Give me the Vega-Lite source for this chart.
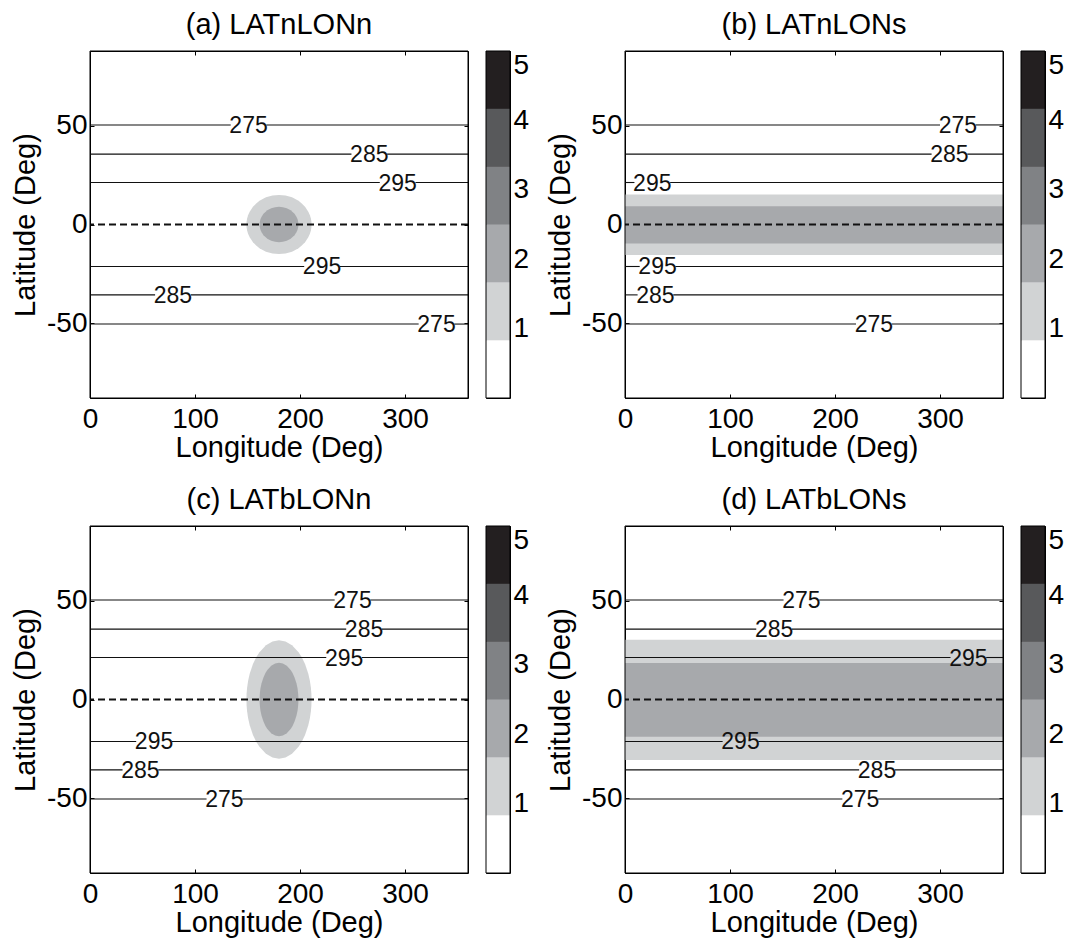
{
"$schema": "https://vega.github.io/schema/vega-lite/v6.json",
"background": "white",
"padding": {"left": 11, "top": 10, "right": 0, "bottom": 0},
"config": {
 "font": "Liberation Sans",
 "view": {"stroke": "black", "strokeWidth": 1},
 "axis": {"grid": false, "domain": false, "zindex": 1, "labelFontSize": 28, "titleFontSize": 29, "titleFontWeight": "normal", "labelColor": "black", "titleColor": "black", "tickColor": "black", "tickWidth": 1, "labelFont": "Liberation Sans", "titleFont": "Liberation Sans"},
 "title": {"fontSize": 29, "fontWeight": "normal", "color": "black", "anchor": "middle", "frame": "group", "offset": 11, "font": "Liberation Sans"},
 "text": {"font": "Liberation Sans"}
},
"datasets": {
 "segs": [
  {"p":"a","lat":50.5,"a":0,"b":134},{"p":"a","lat":50.5,"a":168,"b":360},
  {"p":"a","lat":35.7,"a":0,"b":249},{"p":"a","lat":35.7,"a":283,"b":360},
  {"p":"a","lat":21.3,"a":0,"b":276},{"p":"a","lat":21.3,"a":310,"b":360},
  {"p":"a","lat":-21.3,"a":0,"b":204},{"p":"a","lat":-21.3,"a":238,"b":360},
  {"p":"a","lat":-35.7,"a":0,"b":62},{"p":"a","lat":-35.7,"a":96,"b":360},
  {"p":"a","lat":-50.5,"a":0,"b":313},{"p":"a","lat":-50.5,"a":347,"b":360},
  {"p":"b","lat":50.5,"a":0,"b":300},{"p":"b","lat":50.5,"a":334,"b":360},
  {"p":"b","lat":35.7,"a":0,"b":292},{"p":"b","lat":35.7,"a":326,"b":360},
  {"p":"b","lat":21.3,"a":0,"b":9},{"p":"b","lat":21.3,"a":43,"b":360},
  {"p":"b","lat":-21.3,"a":0,"b":14},{"p":"b","lat":-21.3,"a":48,"b":360},
  {"p":"b","lat":-35.7,"a":0,"b":12},{"p":"b","lat":-35.7,"a":46,"b":360},
  {"p":"b","lat":-50.5,"a":0,"b":220},{"p":"b","lat":-50.5,"a":254,"b":360},
  {"p":"c","lat":50.5,"a":0,"b":233},{"p":"c","lat":50.5,"a":267,"b":360},
  {"p":"c","lat":35.7,"a":0,"b":244},{"p":"c","lat":35.7,"a":278,"b":360},
  {"p":"c","lat":21.3,"a":0,"b":225},{"p":"c","lat":21.3,"a":259,"b":360},
  {"p":"c","lat":-21.3,"a":0,"b":44},{"p":"c","lat":-21.3,"a":78,"b":360},
  {"p":"c","lat":-35.7,"a":0,"b":31},{"p":"c","lat":-35.7,"a":65,"b":360},
  {"p":"c","lat":-50.5,"a":0,"b":111},{"p":"c","lat":-50.5,"a":145,"b":360},
  {"p":"d","lat":50.5,"a":0,"b":151},{"p":"d","lat":50.5,"a":185,"b":360},
  {"p":"d","lat":35.7,"a":0,"b":125},{"p":"d","lat":35.7,"a":159,"b":360},
  {"p":"d","lat":21.3,"a":0,"b":310},{"p":"d","lat":21.3,"a":344,"b":360},
  {"p":"d","lat":-21.3,"a":0,"b":93},{"p":"d","lat":-21.3,"a":127,"b":360},
  {"p":"d","lat":-35.7,"a":0,"b":223},{"p":"d","lat":-35.7,"a":257,"b":360},
  {"p":"d","lat":-50.5,"a":0,"b":207},{"p":"d","lat":-50.5,"a":241,"b":360}
 ],
 "zero": [{"lat": 0}],
 "cbar": [{"lo": 0, "hi": 0.833, "k": 0}, {"lo": 0.833, "hi": 1.667, "k": 1}, {"lo": 1.667, "hi": 2.5, "k": 2}, {"lo": 2.5, "hi": 3.333, "k": 3}, {"lo": 3.333, "hi": 4.167, "k": 4}, {"lo": 4.167, "hi": 5, "k": 5}],
 "labels": [
  {"p": "a", "lon": 151, "lat": 50.5, "t": "275"}, {"p": "a", "lon": 266, "lat": 35.7, "t": "285"}, {"p": "a", "lon": 293, "lat": 21.3, "t": "295"},
  {"p": "a", "lon": 221, "lat": -21.3, "t": "295"}, {"p": "a", "lon": 79, "lat": -35.7, "t": "285"}, {"p": "a", "lon": 330, "lat": -50.5, "t": "275"},
  {"p": "b", "lon": 317, "lat": 50.5, "t": "275"}, {"p": "b", "lon": 309, "lat": 35.7, "t": "285"}, {"p": "b", "lon": 26, "lat": 21.3, "t": "295"},
  {"p": "b", "lon": 31, "lat": -21.3, "t": "295"}, {"p": "b", "lon": 29, "lat": -35.7, "t": "285"}, {"p": "b", "lon": 237, "lat": -50.5, "t": "275"},
  {"p": "c", "lon": 250, "lat": 50.5, "t": "275"}, {"p": "c", "lon": 261, "lat": 35.7, "t": "285"}, {"p": "c", "lon": 242, "lat": 21.3, "t": "295"},
  {"p": "c", "lon": 61, "lat": -21.3, "t": "295"}, {"p": "c", "lon": 48, "lat": -35.7, "t": "285"}, {"p": "c", "lon": 128, "lat": -50.5, "t": "275"},
  {"p": "d", "lon": 168, "lat": 50.5, "t": "275"}, {"p": "d", "lon": 142, "lat": 35.7, "t": "285"}, {"p": "d", "lon": 327, "lat": 21.3, "t": "295"},
  {"p": "d", "lon": 110, "lat": -21.3, "t": "295"}, {"p": "d", "lon": 240, "lat": -35.7, "t": "285"}, {"p": "d", "lon": 224, "lat": -50.5, "t": "275"}
 ],
 "shades": [
  {"p":"a","k":1,"lon":149,"top":0,"bot":0},{"p":"a","k":1,"lon":149.15,"top":1.5,"bot":-1.5},{"p":"a","k":1,"lon":149.62,"top":3.0,"bot":-3.0},{"p":"a","k":1,"lon":150.55,"top":4.7,"bot":-4.7},{"p":"a","k":1,"lon":152.1,"top":6.5,"bot":-6.5},{"p":"a","k":1,"lon":155.2,"top":9.0,"bot":-9.0},{"p":"a","k":1,"lon":158.3,"top":10.7,"bot":-10.7},{"p":"a","k":1,"lon":161.4,"top":12.0,"bot":-12.0},{"p":"a","k":1,"lon":167.6,"top":13.8,"bot":-13.8},{"p":"a","k":1,"lon":173.8,"top":14.7,"bot":-14.7},{"p":"a","k":1,"lon":180,"top":15,"bot":-15},{"p":"a","k":1,"lon":186.2,"top":14.7,"bot":-14.7},{"p":"a","k":1,"lon":192.4,"top":13.8,"bot":-13.8},{"p":"a","k":1,"lon":198.6,"top":12.0,"bot":-12.0},{"p":"a","k":1,"lon":201.7,"top":10.7,"bot":-10.7},{"p":"a","k":1,"lon":204.8,"top":9.0,"bot":-9.0},{"p":"a","k":1,"lon":207.9,"top":6.5,"bot":-6.5},{"p":"a","k":1,"lon":209.45,"top":4.7,"bot":-4.7},{"p":"a","k":1,"lon":210.38,"top":3.0,"bot":-3.0},{"p":"a","k":1,"lon":210.85,"top":1.5,"bot":-1.5},{"p":"a","k":1,"lon":211,"top":0,"bot":0},
  {"p":"a","k":2,"lon":161.5,"top":0,"bot":0},{"p":"a","k":2,"lon":161.6,"top":0.9,"bot":-0.9},{"p":"a","k":2,"lon":161.9,"top":1.8,"bot":-1.8},{"p":"a","k":2,"lon":162.4,"top":2.8,"bot":-2.8},{"p":"a","k":2,"lon":163.4,"top":3.9,"bot":-3.9},{"p":"a","k":2,"lon":165.2,"top":5.4,"bot":-5.4},{"p":"a","k":2,"lon":167.1,"top":6.4,"bot":-6.4},{"p":"a","k":2,"lon":168.9,"top":7.2,"bot":-7.2},{"p":"a","k":2,"lon":172.6,"top":8.3,"bot":-8.3},{"p":"a","k":2,"lon":176.3,"top":8.8,"bot":-8.8},{"p":"a","k":2,"lon":180,"top":9,"bot":-9},{"p":"a","k":2,"lon":183.7,"top":8.8,"bot":-8.8},{"p":"a","k":2,"lon":187.4,"top":8.3,"bot":-8.3},{"p":"a","k":2,"lon":191.1,"top":7.2,"bot":-7.2},{"p":"a","k":2,"lon":192.9,"top":6.4,"bot":-6.4},{"p":"a","k":2,"lon":194.8,"top":5.4,"bot":-5.4},{"p":"a","k":2,"lon":196.6,"top":3.9,"bot":-3.9},{"p":"a","k":2,"lon":197.6,"top":2.8,"bot":-2.8},{"p":"a","k":2,"lon":198.1,"top":1.8,"bot":-1.8},{"p":"a","k":2,"lon":198.4,"top":0.9,"bot":-0.9},{"p":"a","k":2,"lon":198.5,"top":0,"bot":0},
  {"p":"c","k":1,"lon":149,"top":0,"bot":0},{"p":"c","k":1,"lon":149.15,"top":3.0,"bot":-3.0},{"p":"c","k":1,"lon":149.62,"top":6.0,"bot":-6.0},{"p":"c","k":1,"lon":150.55,"top":9.4,"bot":-9.4},{"p":"c","k":1,"lon":152.1,"top":13.1,"bot":-13.1},{"p":"c","k":1,"lon":155.2,"top":18.0,"bot":-18.0},{"p":"c","k":1,"lon":158.3,"top":21.4,"bot":-21.4},{"p":"c","k":1,"lon":161.4,"top":24.0,"bot":-24.0},{"p":"c","k":1,"lon":167.6,"top":27.5,"bot":-27.5},{"p":"c","k":1,"lon":173.8,"top":29.4,"bot":-29.4},{"p":"c","k":1,"lon":180,"top":30,"bot":-30},{"p":"c","k":1,"lon":186.2,"top":29.4,"bot":-29.4},{"p":"c","k":1,"lon":192.4,"top":27.5,"bot":-27.5},{"p":"c","k":1,"lon":198.6,"top":24.0,"bot":-24.0},{"p":"c","k":1,"lon":201.7,"top":21.4,"bot":-21.4},{"p":"c","k":1,"lon":204.8,"top":18.0,"bot":-18.0},{"p":"c","k":1,"lon":207.9,"top":13.1,"bot":-13.1},{"p":"c","k":1,"lon":209.45,"top":9.4,"bot":-9.4},{"p":"c","k":1,"lon":210.38,"top":6.0,"bot":-6.0},{"p":"c","k":1,"lon":210.85,"top":3.0,"bot":-3.0},{"p":"c","k":1,"lon":211,"top":0,"bot":0},
  {"p":"c","k":2,"lon":161.5,"top":0,"bot":0},{"p":"c","k":2,"lon":161.6,"top":1.9,"bot":-1.9},{"p":"c","k":2,"lon":161.9,"top":3.7,"bot":-3.7},{"p":"c","k":2,"lon":162.4,"top":5.8,"bot":-5.8},{"p":"c","k":2,"lon":163.4,"top":8.2,"bot":-8.2},{"p":"c","k":2,"lon":165.2,"top":11.2,"bot":-11.2},{"p":"c","k":2,"lon":167.1,"top":13.4,"bot":-13.4},{"p":"c","k":2,"lon":168.9,"top":15.0,"bot":-15.0},{"p":"c","k":2,"lon":172.6,"top":17.1,"bot":-17.1},{"p":"c","k":2,"lon":176.3,"top":18.3,"bot":-18.3},{"p":"c","k":2,"lon":180,"top":18.7,"bot":-18.7},{"p":"c","k":2,"lon":183.7,"top":18.3,"bot":-18.3},{"p":"c","k":2,"lon":187.4,"top":17.1,"bot":-17.1},{"p":"c","k":2,"lon":191.1,"top":15.0,"bot":-15.0},{"p":"c","k":2,"lon":192.9,"top":13.4,"bot":-13.4},{"p":"c","k":2,"lon":194.8,"top":11.2,"bot":-11.2},{"p":"c","k":2,"lon":196.6,"top":8.2,"bot":-8.2},{"p":"c","k":2,"lon":197.6,"top":5.8,"bot":-5.8},{"p":"c","k":2,"lon":198.1,"top":3.7,"bot":-3.7},{"p":"c","k":2,"lon":198.4,"top":1.9,"bot":-1.9},{"p":"c","k":2,"lon":198.5,"top":0,"bot":0},
  {"p":"b","k":1,"lon":0,"top":15.2,"bot":-15.5},{"p":"b","k":1,"lon":360,"top":15.2,"bot":-15.5},
  {"p":"b","k":2,"lon":0,"top":9.2,"bot":-9.6},{"p":"b","k":2,"lon":360,"top":9.2,"bot":-9.6},
  {"p":"d","k":1,"lon":0,"top":30.3,"bot":-30.7},{"p":"d","k":1,"lon":360,"top":30.3,"bot":-30.7},
  {"p":"d","k":2,"lon":0,"top":18.5,"bot":-18.9},{"p":"d","k":2,"lon":360,"top":18.5,"bot":-18.9}
 ]
},
"columns": 5,
"spacing": {"row": 128, "column": 18},
"bounds": "flush",
"resolve": {"scale": {"x": "independent", "y": "independent"}},
"concat": [
 {"width": 378, "height": 347, "title": {"text": "(a) LATnLONn"},
  "layer": [
   {"data": {"name": "shades"}, "transform": [{"filter": "datum.p == 'a' && datum.k == 1"}], "mark": {"type": "area"},
    "encoding": {"x": {"field": "lon", "type": "quantitative", "scale": {"domain": [0, 360], "nice": false, "zero": false}, "axis": {"orient": "bottom", "values": [0, 100, 200, 300], "tickSize": -4, "labelPadding": 11, "labelFlush": false, "title": "Longitude (Deg)", "titlePadding": 0}},
     "y": {"field": "top", "type": "quantitative", "scale": {"domain": [-88, 88], "nice": false, "zero": false}, "axis": {"orient": "left", "values": [-50, 0, 50], "tickSize": -4, "labelPadding": 7, "labelExpr": "replace(datum.label, '−', '-')", "title": "Latitude (Deg)", "titlePadding": 6}},
     "y2": {"field": "bot"},
     "color": {"field": "k", "type": "ordinal", "scale": {"domain": [0, 1, 2, 3, 4, 5], "range": ["#ffffff", "#d1d3d4", "#a7a9ac", "#808285", "#58595b", "#231f20"]}, "legend": null}}},
   {"data": {"name": "shades"}, "transform": [{"filter": "datum.p == 'a' && datum.k == 2"}], "mark": {"type": "area"},
    "encoding": {"x": {"field": "lon", "type": "quantitative", "scale": {"domain": [0, 360], "nice": false, "zero": false}, "axis": {"orient": "top", "values": [100, 200, 300], "tickSize": -4, "labels": false, "title": null}},
     "y": {"field": "top", "type": "quantitative", "scale": {"domain": [-88, 88], "nice": false, "zero": false}, "axis": {"orient": "right", "values": [-50, 0, 50], "tickSize": -4, "labels": false, "title": null}},
     "y2": {"field": "bot"},
     "color": {"field": "k", "type": "ordinal", "scale": {"domain": [0, 1, 2, 3, 4, 5], "range": ["#ffffff", "#d1d3d4", "#a7a9ac", "#808285", "#58595b", "#231f20"]}, "legend": null}}},
   {"data": {"name": "segs"}, "transform": [{"filter": "datum.p == 'a'"}], "mark": {"type": "rule", "color": "#111111", "strokeWidth": 1.1},
    "encoding": {"x": {"field": "a", "type": "quantitative", "axis": null, "scale": {"domain": [0, 360], "nice": false, "zero": false}}, "x2": {"field": "b"}, "y": {"field": "lat", "type": "quantitative", "axis": null, "scale": {"domain": [-88, 88], "nice": false, "zero": false}}}},
   {"data": {"name": "zero"}, "mark": {"type": "rule", "color": "#111111", "strokeWidth": 1.8, "strokeDash": [7, 4]}, "encoding": {"y": {"field": "lat", "type": "quantitative", "axis": null, "scale": {"domain": [-88, 88], "nice": false, "zero": false}}}},
   {"data": {"name": "labels"}, "transform": [{"filter": "datum.p == 'a'"}], "mark": {"type": "text", "fontSize": 23, "fill": "#111111", "baseline": "middle", "dy": 1},
    "encoding": {"x": {"field": "lon", "type": "quantitative", "axis": null, "scale": {"domain": [0, 360], "nice": false, "zero": false}}, "y": {"field": "lat", "type": "quantitative", "axis": null, "scale": {"domain": [-88, 88], "nice": false, "zero": false}}, "text": {"field": "t"}}},
   {"data": {"name": "zero"}, "mark": {"type": "rect", "fill": "transparent", "stroke": "black", "strokeWidth": 1},
    "encoding": {"x": {"datum": 0, "type": "quantitative", "axis": null}, "x2": {"datum": 360}, "y": {"datum": -88, "type": "quantitative", "axis": null}, "y2": {"datum": 88}}}
  ],
  "resolve": {"axis": {"x": "independent", "y": "independent"}}
 },
 {"width": 24, "height": 347, "data": {"name": "cbar"},
  "layer": [
   {"mark": "rect", "encoding": {"x": {"datum": 0, "type": "quantitative", "scale": {"domain": [0, 1], "nice": false, "zero": false}, "axis": null}, "x2": {"datum": 1}, "y": {"field": "lo", "type": "quantitative", "scale": {"domain": [0, 5], "nice": false, "zero": false}, "axis": {"orient": "right", "values": [1, 2, 3, 4, 5], "tickSize": -4, "labelPadding": 7, "labelFlush": true, "title": null}}, "y2": {"field": "hi"},
     "color": {"field": "k", "type": "ordinal", "scale": {"domain": [0, 1, 2, 3, 4, 5], "range": ["#ffffff", "#d1d3d4", "#a7a9ac", "#808285", "#58595b", "#231f20"]}, "legend": null}}},
   {"mark": "rect", "encoding": {"x": {"datum": 0, "type": "quantitative", "scale": {"domain": [0, 1], "nice": false, "zero": false}, "axis": null}, "x2": {"datum": 1}, "y": {"field": "lo", "type": "quantitative", "scale": {"domain": [0, 5], "nice": false, "zero": false}, "axis": {"orient": "left", "values": [1, 2, 3, 4], "tickSize": -4, "labels": false, "title": null}}, "y2": {"field": "hi"},
     "color": {"field": "k", "type": "ordinal", "scale": {"domain": [0, 1, 2, 3, 4, 5], "range": ["#ffffff", "#d1d3d4", "#a7a9ac", "#808285", "#58595b", "#231f20"]}, "legend": null}}},
   {"data": {"name": "zero"}, "mark": {"type": "rect", "fill": "transparent", "stroke": "black", "strokeWidth": 1},
    "encoding": {"x": {"datum": 0, "type": "quantitative", "axis": null}, "x2": {"datum": 1}, "y": {"datum": 0, "type": "quantitative", "axis": null}, "y2": {"datum": 5}}}
  ],
  "resolve": {"axis": {"y": "independent"}}
 },
 {"width": 79, "height": 347, "view": {"stroke": null}, "data": {"values": [{"v": 0}]}, "mark": {"type": "point", "opacity": 0}, "encoding": {"x": {"field": "v", "type": "quantitative", "axis": null}, "y": {"field": "v", "type": "quantitative", "axis": null}}},
 {"width": 378, "height": 347, "title": {"text": "(b) LATnLONs"},
  "layer": [
   {"data": {"name": "shades"}, "transform": [{"filter": "datum.p == 'b' && datum.k == 1"}], "mark": {"type": "area"},
    "encoding": {"x": {"field": "lon", "type": "quantitative", "scale": {"domain": [0, 360], "nice": false, "zero": false}, "axis": {"orient": "bottom", "values": [0, 100, 200, 300], "tickSize": -4, "labelPadding": 11, "labelFlush": false, "title": "Longitude (Deg)", "titlePadding": 0}},
     "y": {"field": "top", "type": "quantitative", "scale": {"domain": [-88, 88], "nice": false, "zero": false}, "axis": {"orient": "left", "values": [-50, 0, 50], "tickSize": -4, "labelPadding": 7, "labelExpr": "replace(datum.label, '−', '-')", "title": "Latitude (Deg)", "titlePadding": 6}},
     "y2": {"field": "bot"},
     "color": {"field": "k", "type": "ordinal", "scale": {"domain": [0, 1, 2, 3, 4, 5], "range": ["#ffffff", "#d1d3d4", "#a7a9ac", "#808285", "#58595b", "#231f20"]}, "legend": null}}},
   {"data": {"name": "shades"}, "transform": [{"filter": "datum.p == 'b' && datum.k == 2"}], "mark": {"type": "area"},
    "encoding": {"x": {"field": "lon", "type": "quantitative", "scale": {"domain": [0, 360], "nice": false, "zero": false}, "axis": {"orient": "top", "values": [100, 200, 300], "tickSize": -4, "labels": false, "title": null}},
     "y": {"field": "top", "type": "quantitative", "scale": {"domain": [-88, 88], "nice": false, "zero": false}, "axis": {"orient": "right", "values": [-50, 0, 50], "tickSize": -4, "labels": false, "title": null}},
     "y2": {"field": "bot"},
     "color": {"field": "k", "type": "ordinal", "scale": {"domain": [0, 1, 2, 3, 4, 5], "range": ["#ffffff", "#d1d3d4", "#a7a9ac", "#808285", "#58595b", "#231f20"]}, "legend": null}}},
   {"data": {"name": "segs"}, "transform": [{"filter": "datum.p == 'b'"}], "mark": {"type": "rule", "color": "#111111", "strokeWidth": 1.1},
    "encoding": {"x": {"field": "a", "type": "quantitative", "axis": null, "scale": {"domain": [0, 360], "nice": false, "zero": false}}, "x2": {"field": "b"}, "y": {"field": "lat", "type": "quantitative", "axis": null, "scale": {"domain": [-88, 88], "nice": false, "zero": false}}}},
   {"data": {"name": "zero"}, "mark": {"type": "rule", "color": "#111111", "strokeWidth": 1.8, "strokeDash": [7, 4]}, "encoding": {"y": {"field": "lat", "type": "quantitative", "axis": null, "scale": {"domain": [-88, 88], "nice": false, "zero": false}}}},
   {"data": {"name": "labels"}, "transform": [{"filter": "datum.p == 'b'"}], "mark": {"type": "text", "fontSize": 23, "fill": "#111111", "baseline": "middle", "dy": 1},
    "encoding": {"x": {"field": "lon", "type": "quantitative", "axis": null, "scale": {"domain": [0, 360], "nice": false, "zero": false}}, "y": {"field": "lat", "type": "quantitative", "axis": null, "scale": {"domain": [-88, 88], "nice": false, "zero": false}}, "text": {"field": "t"}}},
   {"data": {"name": "zero"}, "mark": {"type": "rect", "fill": "transparent", "stroke": "black", "strokeWidth": 1},
    "encoding": {"x": {"datum": 0, "type": "quantitative", "axis": null}, "x2": {"datum": 360}, "y": {"datum": -88, "type": "quantitative", "axis": null}, "y2": {"datum": 88}}}
  ],
  "resolve": {"axis": {"x": "independent", "y": "independent"}}
 },
 {"width": 24, "height": 347, "data": {"name": "cbar"},
  "layer": [
   {"mark": "rect", "encoding": {"x": {"datum": 0, "type": "quantitative", "scale": {"domain": [0, 1], "nice": false, "zero": false}, "axis": null}, "x2": {"datum": 1}, "y": {"field": "lo", "type": "quantitative", "scale": {"domain": [0, 5], "nice": false, "zero": false}, "axis": {"orient": "right", "values": [1, 2, 3, 4, 5], "tickSize": -4, "labelPadding": 7, "labelFlush": true, "title": null}}, "y2": {"field": "hi"},
     "color": {"field": "k", "type": "ordinal", "scale": {"domain": [0, 1, 2, 3, 4, 5], "range": ["#ffffff", "#d1d3d4", "#a7a9ac", "#808285", "#58595b", "#231f20"]}, "legend": null}}},
   {"mark": "rect", "encoding": {"x": {"datum": 0, "type": "quantitative", "scale": {"domain": [0, 1], "nice": false, "zero": false}, "axis": null}, "x2": {"datum": 1}, "y": {"field": "lo", "type": "quantitative", "scale": {"domain": [0, 5], "nice": false, "zero": false}, "axis": {"orient": "left", "values": [1, 2, 3, 4], "tickSize": -4, "labels": false, "title": null}}, "y2": {"field": "hi"},
     "color": {"field": "k", "type": "ordinal", "scale": {"domain": [0, 1, 2, 3, 4, 5], "range": ["#ffffff", "#d1d3d4", "#a7a9ac", "#808285", "#58595b", "#231f20"]}, "legend": null}}},
   {"data": {"name": "zero"}, "mark": {"type": "rect", "fill": "transparent", "stroke": "black", "strokeWidth": 1},
    "encoding": {"x": {"datum": 0, "type": "quantitative", "axis": null}, "x2": {"datum": 1}, "y": {"datum": 0, "type": "quantitative", "axis": null}, "y2": {"datum": 5}}}
  ],
  "resolve": {"axis": {"y": "independent"}}
 },
 {"width": 378, "height": 347, "title": {"text": "(c) LATbLONn"},
  "layer": [
   {"data": {"name": "shades"}, "transform": [{"filter": "datum.p == 'c' && datum.k == 1"}], "mark": {"type": "area"},
    "encoding": {"x": {"field": "lon", "type": "quantitative", "scale": {"domain": [0, 360], "nice": false, "zero": false}, "axis": {"orient": "bottom", "values": [0, 100, 200, 300], "tickSize": -4, "labelPadding": 11, "labelFlush": false, "title": "Longitude (Deg)", "titlePadding": 0}},
     "y": {"field": "top", "type": "quantitative", "scale": {"domain": [-88, 88], "nice": false, "zero": false}, "axis": {"orient": "left", "values": [-50, 0, 50], "tickSize": -4, "labelPadding": 7, "labelExpr": "replace(datum.label, '−', '-')", "title": "Latitude (Deg)", "titlePadding": 6}},
     "y2": {"field": "bot"},
     "color": {"field": "k", "type": "ordinal", "scale": {"domain": [0, 1, 2, 3, 4, 5], "range": ["#ffffff", "#d1d3d4", "#a7a9ac", "#808285", "#58595b", "#231f20"]}, "legend": null}}},
   {"data": {"name": "shades"}, "transform": [{"filter": "datum.p == 'c' && datum.k == 2"}], "mark": {"type": "area"},
    "encoding": {"x": {"field": "lon", "type": "quantitative", "scale": {"domain": [0, 360], "nice": false, "zero": false}, "axis": {"orient": "top", "values": [100, 200, 300], "tickSize": -4, "labels": false, "title": null}},
     "y": {"field": "top", "type": "quantitative", "scale": {"domain": [-88, 88], "nice": false, "zero": false}, "axis": {"orient": "right", "values": [-50, 0, 50], "tickSize": -4, "labels": false, "title": null}},
     "y2": {"field": "bot"},
     "color": {"field": "k", "type": "ordinal", "scale": {"domain": [0, 1, 2, 3, 4, 5], "range": ["#ffffff", "#d1d3d4", "#a7a9ac", "#808285", "#58595b", "#231f20"]}, "legend": null}}},
   {"data": {"name": "segs"}, "transform": [{"filter": "datum.p == 'c'"}], "mark": {"type": "rule", "color": "#111111", "strokeWidth": 1.1},
    "encoding": {"x": {"field": "a", "type": "quantitative", "axis": null, "scale": {"domain": [0, 360], "nice": false, "zero": false}}, "x2": {"field": "b"}, "y": {"field": "lat", "type": "quantitative", "axis": null, "scale": {"domain": [-88, 88], "nice": false, "zero": false}}}},
   {"data": {"name": "zero"}, "mark": {"type": "rule", "color": "#111111", "strokeWidth": 1.8, "strokeDash": [7, 4]}, "encoding": {"y": {"field": "lat", "type": "quantitative", "axis": null, "scale": {"domain": [-88, 88], "nice": false, "zero": false}}}},
   {"data": {"name": "labels"}, "transform": [{"filter": "datum.p == 'c'"}], "mark": {"type": "text", "fontSize": 23, "fill": "#111111", "baseline": "middle", "dy": 1},
    "encoding": {"x": {"field": "lon", "type": "quantitative", "axis": null, "scale": {"domain": [0, 360], "nice": false, "zero": false}}, "y": {"field": "lat", "type": "quantitative", "axis": null, "scale": {"domain": [-88, 88], "nice": false, "zero": false}}, "text": {"field": "t"}}},
   {"data": {"name": "zero"}, "mark": {"type": "rect", "fill": "transparent", "stroke": "black", "strokeWidth": 1},
    "encoding": {"x": {"datum": 0, "type": "quantitative", "axis": null}, "x2": {"datum": 360}, "y": {"datum": -88, "type": "quantitative", "axis": null}, "y2": {"datum": 88}}}
  ],
  "resolve": {"axis": {"x": "independent", "y": "independent"}}
 },
 {"width": 24, "height": 347, "data": {"name": "cbar"},
  "layer": [
   {"mark": "rect", "encoding": {"x": {"datum": 0, "type": "quantitative", "scale": {"domain": [0, 1], "nice": false, "zero": false}, "axis": null}, "x2": {"datum": 1}, "y": {"field": "lo", "type": "quantitative", "scale": {"domain": [0, 5], "nice": false, "zero": false}, "axis": {"orient": "right", "values": [1, 2, 3, 4, 5], "tickSize": -4, "labelPadding": 7, "labelFlush": true, "title": null}}, "y2": {"field": "hi"},
     "color": {"field": "k", "type": "ordinal", "scale": {"domain": [0, 1, 2, 3, 4, 5], "range": ["#ffffff", "#d1d3d4", "#a7a9ac", "#808285", "#58595b", "#231f20"]}, "legend": null}}},
   {"mark": "rect", "encoding": {"x": {"datum": 0, "type": "quantitative", "scale": {"domain": [0, 1], "nice": false, "zero": false}, "axis": null}, "x2": {"datum": 1}, "y": {"field": "lo", "type": "quantitative", "scale": {"domain": [0, 5], "nice": false, "zero": false}, "axis": {"orient": "left", "values": [1, 2, 3, 4], "tickSize": -4, "labels": false, "title": null}}, "y2": {"field": "hi"},
     "color": {"field": "k", "type": "ordinal", "scale": {"domain": [0, 1, 2, 3, 4, 5], "range": ["#ffffff", "#d1d3d4", "#a7a9ac", "#808285", "#58595b", "#231f20"]}, "legend": null}}},
   {"data": {"name": "zero"}, "mark": {"type": "rect", "fill": "transparent", "stroke": "black", "strokeWidth": 1},
    "encoding": {"x": {"datum": 0, "type": "quantitative", "axis": null}, "x2": {"datum": 1}, "y": {"datum": 0, "type": "quantitative", "axis": null}, "y2": {"datum": 5}}}
  ],
  "resolve": {"axis": {"y": "independent"}}
 },
 {"width": 79, "height": 347, "view": {"stroke": null}, "data": {"values": [{"v": 0}]}, "mark": {"type": "point", "opacity": 0}, "encoding": {"x": {"field": "v", "type": "quantitative", "axis": null}, "y": {"field": "v", "type": "quantitative", "axis": null}}},
 {"width": 378, "height": 347, "title": {"text": "(d) LATbLONs"},
  "layer": [
   {"data": {"name": "shades"}, "transform": [{"filter": "datum.p == 'd' && datum.k == 1"}], "mark": {"type": "area"},
    "encoding": {"x": {"field": "lon", "type": "quantitative", "scale": {"domain": [0, 360], "nice": false, "zero": false}, "axis": {"orient": "bottom", "values": [0, 100, 200, 300], "tickSize": -4, "labelPadding": 11, "labelFlush": false, "title": "Longitude (Deg)", "titlePadding": 0}},
     "y": {"field": "top", "type": "quantitative", "scale": {"domain": [-88, 88], "nice": false, "zero": false}, "axis": {"orient": "left", "values": [-50, 0, 50], "tickSize": -4, "labelPadding": 7, "labelExpr": "replace(datum.label, '−', '-')", "title": "Latitude (Deg)", "titlePadding": 6}},
     "y2": {"field": "bot"},
     "color": {"field": "k", "type": "ordinal", "scale": {"domain": [0, 1, 2, 3, 4, 5], "range": ["#ffffff", "#d1d3d4", "#a7a9ac", "#808285", "#58595b", "#231f20"]}, "legend": null}}},
   {"data": {"name": "shades"}, "transform": [{"filter": "datum.p == 'd' && datum.k == 2"}], "mark": {"type": "area"},
    "encoding": {"x": {"field": "lon", "type": "quantitative", "scale": {"domain": [0, 360], "nice": false, "zero": false}, "axis": {"orient": "top", "values": [100, 200, 300], "tickSize": -4, "labels": false, "title": null}},
     "y": {"field": "top", "type": "quantitative", "scale": {"domain": [-88, 88], "nice": false, "zero": false}, "axis": {"orient": "right", "values": [-50, 0, 50], "tickSize": -4, "labels": false, "title": null}},
     "y2": {"field": "bot"},
     "color": {"field": "k", "type": "ordinal", "scale": {"domain": [0, 1, 2, 3, 4, 5], "range": ["#ffffff", "#d1d3d4", "#a7a9ac", "#808285", "#58595b", "#231f20"]}, "legend": null}}},
   {"data": {"name": "segs"}, "transform": [{"filter": "datum.p == 'd'"}], "mark": {"type": "rule", "color": "#111111", "strokeWidth": 1.1},
    "encoding": {"x": {"field": "a", "type": "quantitative", "axis": null, "scale": {"domain": [0, 360], "nice": false, "zero": false}}, "x2": {"field": "b"}, "y": {"field": "lat", "type": "quantitative", "axis": null, "scale": {"domain": [-88, 88], "nice": false, "zero": false}}}},
   {"data": {"name": "zero"}, "mark": {"type": "rule", "color": "#111111", "strokeWidth": 1.8, "strokeDash": [7, 4]}, "encoding": {"y": {"field": "lat", "type": "quantitative", "axis": null, "scale": {"domain": [-88, 88], "nice": false, "zero": false}}}},
   {"data": {"name": "labels"}, "transform": [{"filter": "datum.p == 'd'"}], "mark": {"type": "text", "fontSize": 23, "fill": "#111111", "baseline": "middle", "dy": 1},
    "encoding": {"x": {"field": "lon", "type": "quantitative", "axis": null, "scale": {"domain": [0, 360], "nice": false, "zero": false}}, "y": {"field": "lat", "type": "quantitative", "axis": null, "scale": {"domain": [-88, 88], "nice": false, "zero": false}}, "text": {"field": "t"}}},
   {"data": {"name": "zero"}, "mark": {"type": "rect", "fill": "transparent", "stroke": "black", "strokeWidth": 1},
    "encoding": {"x": {"datum": 0, "type": "quantitative", "axis": null}, "x2": {"datum": 360}, "y": {"datum": -88, "type": "quantitative", "axis": null}, "y2": {"datum": 88}}}
  ],
  "resolve": {"axis": {"x": "independent", "y": "independent"}}
 },
 {"width": 24, "height": 347, "data": {"name": "cbar"},
  "layer": [
   {"mark": "rect", "encoding": {"x": {"datum": 0, "type": "quantitative", "scale": {"domain": [0, 1], "nice": false, "zero": false}, "axis": null}, "x2": {"datum": 1}, "y": {"field": "lo", "type": "quantitative", "scale": {"domain": [0, 5], "nice": false, "zero": false}, "axis": {"orient": "right", "values": [1, 2, 3, 4, 5], "tickSize": -4, "labelPadding": 7, "labelFlush": true, "title": null}}, "y2": {"field": "hi"},
     "color": {"field": "k", "type": "ordinal", "scale": {"domain": [0, 1, 2, 3, 4, 5], "range": ["#ffffff", "#d1d3d4", "#a7a9ac", "#808285", "#58595b", "#231f20"]}, "legend": null}}},
   {"mark": "rect", "encoding": {"x": {"datum": 0, "type": "quantitative", "scale": {"domain": [0, 1], "nice": false, "zero": false}, "axis": null}, "x2": {"datum": 1}, "y": {"field": "lo", "type": "quantitative", "scale": {"domain": [0, 5], "nice": false, "zero": false}, "axis": {"orient": "left", "values": [1, 2, 3, 4], "tickSize": -4, "labels": false, "title": null}}, "y2": {"field": "hi"},
     "color": {"field": "k", "type": "ordinal", "scale": {"domain": [0, 1, 2, 3, 4, 5], "range": ["#ffffff", "#d1d3d4", "#a7a9ac", "#808285", "#58595b", "#231f20"]}, "legend": null}}},
   {"data": {"name": "zero"}, "mark": {"type": "rect", "fill": "transparent", "stroke": "black", "strokeWidth": 1},
    "encoding": {"x": {"datum": 0, "type": "quantitative", "axis": null}, "x2": {"datum": 1}, "y": {"datum": 0, "type": "quantitative", "axis": null}, "y2": {"datum": 5}}}
  ],
  "resolve": {"axis": {"y": "independent"}}
 }
]
}
